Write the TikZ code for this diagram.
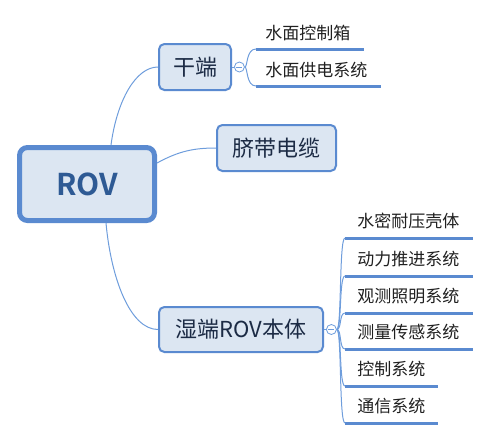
\documentclass[tikz,border=0pt]{standalone}
\usepackage{fontspec}
\setmainfont{Noto Sans CJK SC}[BoldFont={Noto Sans CJK SC Bold}]
\definecolor{boxfill}{HTML}{DCE6F2}
\definecolor{boxline}{HTML}{5A8AD0}
\definecolor{linkline}{HTML}{6E9DDC}
\definecolor{roottext}{HTML}{2E5A94}
\definecolor{subtext}{HTML}{1C2B45}
\definecolor{leaftext}{HTML}{202020}
\begin{document}
\begin{tikzpicture}[x=0.75pt,y=-0.75pt,
  rootbox/.style={draw=boxline, line width=3.75pt, fill=boxfill, rounded corners=6pt,
    minimum width=101.25pt, minimum height=54.75pt, inner sep=0pt,
    font=\fontsize{22.5}{26}\selectfont\bfseries, text=roottext},
  subbox/.style={draw=boxline, line width=1.5pt, fill=boxfill, rounded corners=4pt,
    minimum height=34.5pt, inner sep=0pt,
    font=\fontsize{16.5}{19}\selectfont, text=subtext},
  leaf/.style={anchor=south west, inner ysep=0pt, align=left,
    font=\fontsize{12.75}{15}\selectfont, text=leaftext},
  dryleaf/.style={leaf, inner xsep=6.75pt, minimum height=24pt, text width=#1},
  wetleaf/.style={leaf, inner xsep=9pt, minimum height=25.5pt, text width=#1},
  underline/.style={draw=boxline, line width=2.25pt},
  link/.style={draw=linkline, line width=0.75pt},
  toggle/.style={circle, draw=linkline, fill=white, line width=0.6pt,
    minimum size=7.5pt, inner sep=0pt, anchor=west}
]
\useasboundingbox (0,0) rectangle (489,440);

% central topic and main branches
\node[rootbox] (root) at (87,184) {ROV};
\node[subbox, minimum width=54pt] (gan) at (195,67) {干端};
\node[subbox, minimum width=89.25pt] (cable) at (276.5,148) {脐带电缆};
\node[subbox, minimum width=123pt, minimum height=33.75pt] (wet) at (241,329.5) {湿端ROV本体};

% branches from the central topic
\draw[link] ([xshift=18pt]root.north) .. controls +(6,-45) and +(-22,0) .. (gan.west);
\draw[link] ([yshift=15.75pt]root.east) .. controls +(22,-12) and +(-22,0) .. (cable.west);
\draw[link] ([xshift=14.25pt]root.south) .. controls +(5,55) and +(-28,0) .. (wet.west);

% collapse toggles
\node[toggle] (t1) at ([xshift=1.5pt]gan.east) {};
\node[toggle] (t2) at ([xshift=1.5pt]wet.east) {};
\foreach \t in {t1,t2}
  \draw[linkline, line width=0.6pt] ([xshift=-2.2pt]\t.center) -- ([xshift=2.2pt]\t.center);
\draw[link] (gan.east) -- (t1.west);
\draw[link] (wet.east) -- (t2.west);

% dry-end items
\node[dryleaf=66.75pt] (d1) at (256,49) {水面控制箱};
\node[dryleaf=79.5pt]  (d2) at (256,86) {水面供电系统};
\foreach \n in {d1,d2} {
  \draw[underline] (\n.south west) -- (\n.south east);
  \draw[link] (t1.east) .. controls +(3,0) and +(-10,0) .. (\n.south west);
}

% wet-end items
\node[wetleaf=77.25pt] (w1) at (345,238) {水密耐压壳体};
\node[wetleaf=77.25pt] (w2) at (345,276) {动力推进系统};
\node[wetleaf=77.25pt] (w3) at (345,313) {观测照明系统};
\node[wetleaf=77.25pt] (w4) at (345,349) {测量传感系统};
\node[wetleaf=51pt]    (w5) at (345,386) {控制系统};
\node[wetleaf=51pt]    (w6) at (345,423) {通信系统};
\foreach \n in {w1,w2,w3,w4,w5,w6} {
  \draw[underline] (\n.south west) -- (\n.south east);
  \draw[link] (t2.east) .. controls +(5,0) and +(-6,0) .. (\n.south west);
}
\end{tikzpicture}
\end{document}
